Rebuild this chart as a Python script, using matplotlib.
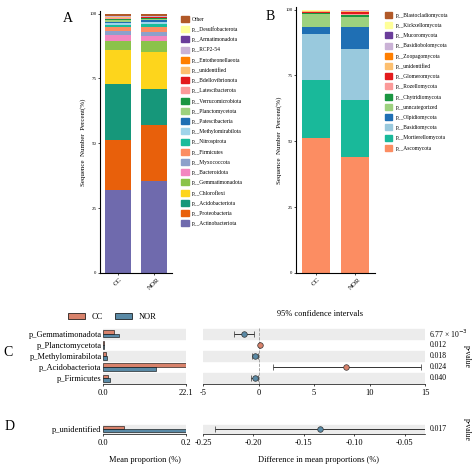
import numpy as np
import matplotlib
matplotlib.use("Agg")
import matplotlib.pyplot as plt
from matplotlib.patches import Patch

plt.rcParams['font.family'] = ['Liberation Serif', 'DejaVu Serif']

groups = ["CC", "NOR"]

# Panel A: bacterial phyla (bottom to top)
bac_names = ["p__Actinobacteriota", "p__Proteobacteria", "p__Acidobacteriota", "p__Chloroflexi",
             "p__Gemmatimonadota", "p__Bacteroidota", "p__Myxococcota", "p__Firmicutes",
             "p__Nitrospirota", "p__Methylomirabilota", "p__Patescibacteria", "p__Planctomycetota",
             "p__Verrucomicrobiota", "p__Latescibacterota", "p__Bdellovibrionota", "p__unidentified",
             "p__Entotheonellaeota", "p__RCP2-54", "p__Armatimonadota", "p__Desulfobacterota", "Other"]
bac_cc = [32.5, 19.1, 22.0, 13.4, 3.2, 2.5, 1.6, 1.4, 0.9, 0.7, 0.6, 0.6, 0.4, 0.3, 0.2, 0.2, 0.2, 0.1, 0.1, 0.1, 0.9]
bac_nor = [35.8, 21.8, 14.1, 14.3, 4.4, 1.7, 1.9, 1.9, 0.9, 1.0, 0.7, 0.3, 0.3, 0.2, 0.2, 0.2, 0.1, 0.1, 0.1, 0.1, 0.9]
bac_colors = ["#6f6aad", "#e8600b", "#16977a", "#fdd51c", "#8bc34a", "#f386c0", "#8da0cb", "#fc8d62",
              "#1bbc9b", "#9fd4ea", "#1f6fb4", "#9dd17e", "#1a9641", "#fb9a99", "#e31a1c", "#fdbf6f",
              "#ff7f00", "#cab2d6", "#6a3d9a", "#ffff99", "#b15928"]

# Panel B: fungal phyla (bottom to top)
fun_names = ["p__Ascomycota", "p__Mortierellomycota", "p__Basidiomycota", "p__Olpidiomycota",
             "p__unncategorized", "p__Chytridiomycota", "p__Rozellomycota", "p__Glomeromycota",
             "p__unidentified", "p__Zoopagomycota", "p__Basidiobolomycota", "p__Mucoromycota",
             "p__Kickxellomycota", "p__Blastocladiomycota"]
fun_cc = [51.4, 21.9, 17.7, 2.5, 5.2, 0.2, 0.2, 0.2, 0.2, 0.1, 0.1, 0.1, 0.1, 0.3]
fun_nor = [43.9, 21.9, 19.2, 8.4, 3.8, 0.7, 0.4, 0.9, 0.3, 0.1, 0.1, 0.1, 0.1, 0.1]
fun_colors = ["#fc8d62", "#19b99a", "#99c9dd", "#1f6fb4", "#9dd17e", "#1a9641", "#fb9a99", "#e31a1c",
              "#fdbf6f", "#ff7f00", "#cab2d6", "#6a3d9a", "#ffff99", "#b15928"]

# Panel C: STAMP bacteria
c_names = ["p_Gemmatimonadota", "p_Planctomycetota", "p_Methylomirabilota", "p_Acidobacteriota", "p_Firmicutes"]
c_cc = [3.0, 0.3, 0.7, 22.0, 1.4]
c_nor = [4.3, 0.2, 1.0, 14.1, 1.9]
c_diff = [-1.35, 0.1, -0.3, 7.9, -0.35]
c_lo = [-2.2, 0.05, -0.55, 1.3, -0.7]
c_hi = [-0.4, 0.15, -0.05, 14.6, -0.02]
c_p = ["6.77 × 10$^{-3}$", "0.012", "0.018", "0.024", "0.040"]

# Panel D: STAMP fungi
d_names = ["p_unidentified"]
d_cc = [0.05]
d_nor = [0.2]
d_diff = [-0.134]
d_lo = [-0.238]
d_hi = [-0.028]
d_p = ["0.017"]

CC_COL = "#d8826b"
NOR_COL = "#5a8aa6"

W, H = 474, 467
fig = plt.figure(figsize=(W / 100, H / 100), dpi=100)


def box(x0, y0, x1, y1):
    return [x0 / W, 1 - y1 / H, (x1 - x0) / W, (y1 - y0) / H]


def stacked(rect, vals_a, vals_b, colors, names, letter, lpos):
    ax = fig.add_axes(rect)
    bottom = np.zeros(2)
    for i, c in enumerate(colors):
        v = np.array([vals_a[i], vals_b[i]])
        v = v / np.array([sum(vals_a), sum(vals_b)]) * 100
        ax.bar([0, 1], v, bottom=bottom, width=0.7, color=c)
        bottom += v
    ax.set_xlim(-0.5, 1.5)
    ax.set_ylim(0, 101)
    ax.set_yticks([0, 25, 50, 75, 100])
    ax.set_yticklabels(["0", "25", "50", "75", "100"], fontsize=3.5)
    ax.set_xticks([0, 1])
    ax.set_xticklabels(groups, rotation=45, fontsize=5)
    ax.tick_params(length=1.5, width=0.5, pad=1)
    for s in ["top", "right"]:
        ax.spines[s].set_visible(False)
    ax.set_ylabel("Sequence  Number  Percent(%)", fontsize=5, labelpad=2)
    handles = [Patch(color=c, label=n) for c, n in zip(colors, names)][::-1]
    ax.legend(handles=handles, loc="upper left", bbox_to_anchor=(1.1, 0.99), frameon=False,
              fontsize=4, handlelength=1.3, handleheight=1.3, labelspacing=0.75, handletextpad=0.6,
              borderaxespad=0)
    fig.text(lpos[0] / W, 1 - lpos[1] / H, letter, fontsize=10, ha="center", va="center")
    return ax


stacked(box(100, 11, 172, 273), bac_cc, bac_nor, bac_colors, bac_names, "A", (68, 19))
stacked(box(296, 7, 375, 273), fun_cc, fun_nor, fun_colors, fun_names, "B", (270, 16))


def stamp(y0, y1, names, cc, nor, diff, lo, hi, pv, xmax, xlim_r, xticks_r, xtl_r, show_zero):
    n = len(names)
    axl = fig.add_axes(box(103, y0, 186, y1))
    axr = fig.add_axes(box(203, y0, 425, y1))
    ys = np.arange(n)[::-1]
    for i, y in enumerate(ys):
        if i % 2 == 0:
            axl.axhspan(y - 0.45, y + 0.45, color="#ececec", zorder=0)
            axr.axhspan(y - 0.45, y + 0.45, color="#ececec", zorder=0)
    axl.barh(ys + 0.17, cc, height=0.34, color=CC_COL, edgecolor="black", linewidth=0.4)
    axl.barh(ys - 0.17, nor, height=0.34, color=NOR_COL, edgecolor="black", linewidth=0.4)
    axl.set_xlim(0, xmax)
    axl.set_ylim(-0.5, n - 0.5)
    axl.set_yticks(ys)
    axl.set_yticklabels(names, fontsize=6)
    axl.set_xticks([0, xmax])
    axl.set_xticklabels(["0.0", f"{xmax:g}"], fontsize=6)
    axr.set_xlim(*xlim_r)
    axr.set_ylim(-0.5, n - 0.5)
    axr.set_yticks([])
    axr.set_xticks(xticks_r)
    axr.set_xticklabels(xtl_r, fontsize=6)
    if show_zero:
        axr.axvline(0, color="#999999", ls="--", lw=0.6, zorder=1)
    for i, y in enumerate(ys):
        col = CC_COL if diff[i] > 0 else NOR_COL
        axr.errorbar(diff[i], y, xerr=[[diff[i] - lo[i]], [hi[i] - diff[i]]], fmt="o", ms=4,
                     mfc=col, mec="#333333", mew=0.5, ecolor="#333333", elinewidth=0.7, capsize=2,
                     capthick=0.7, zorder=3)
        axr.text(1.02, (y + 0.5) / n, pv[i], transform=axr.transAxes, fontsize=5.5, va="center")
    for a in (axl, axr):
        for s in ["top", "right", "left"]:
            a.spines[s].set_visible(False)
        a.spines["bottom"].set_linewidth(0.5)
        a.tick_params(axis="y", length=0, pad=1)
        a.tick_params(axis="x", length=1.5, width=0.5, pad=2)
    fig.text(467 / W, 1 - ((y0 + y1) / 2) / H, "p-value", rotation=270, fontsize=5.5,
             ha="center", va="center")
    return axl, axr


stamp(328, 384, c_names, c_cc, c_nor, c_diff, c_lo, c_hi, c_p, 22.1, (-5, 15),
      [-5, 0, 5, 10, 15], ["-5", "0", "5", "10", "15"], True)
stamp(424, 434, d_names, d_cc, d_nor, d_diff, d_lo, d_hi, d_p, 0.2, (-0.25, -0.03),
      [-0.25, -0.2, -0.15, -0.1, -0.05], ["-0.25", "-0.20", "-0.15", "-0.10", "-0.05"], False)

fig.legend(handles=[Patch(facecolor=CC_COL, edgecolor="black", linewidth=0.5, label="CC"),
                    Patch(facecolor=NOR_COL, edgecolor="black", linewidth=0.5, label="NOR")],
           loc="center", bbox_to_anchor=(112 / W, 1 - 317 / H), ncol=2, frameon=False, fontsize=6,
           handlelength=2, handleheight=0.8, columnspacing=1.5)
fig.text(320 / W, 1 - 314 / H, "95% confidence intervals", fontsize=6, ha="center", va="center")
fig.text(8 / W, 1 - 353 / H, "C", fontsize=10, ha="center", va="center")
fig.text(10 / W, 1 - 427 / H, "D", fontsize=10, ha="center", va="center")
fig.text(145 / W, 1 - 460 / H, "Mean proportion (%)", fontsize=6, ha="center", va="center")
fig.text(318 / W, 1 - 460 / H, "Difference in mean proportions (%)", fontsize=6, ha="center", va="center")

fig.savefig("out.png", dpi=100)
